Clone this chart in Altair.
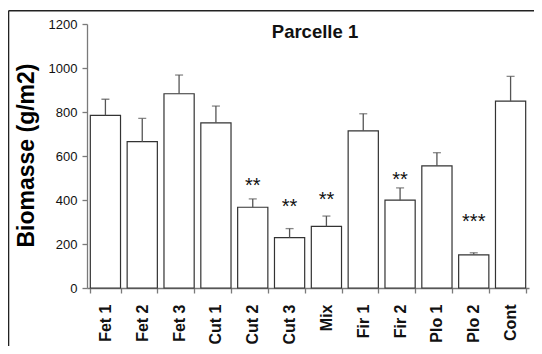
import altair as alt
import pandas as pd

categories = ["Fet 1", "Fet 2", "Fet 3", "Cut 1", "Cut 2", "Cut 3", "Mix",
              "Fir 1", "Fir 2", "Plo 1", "Plo 2", "Cont"]
means = [785, 665, 883, 751, 367, 229, 280, 714, 399, 555, 151, 849]
errors = [73, 106, 85, 76, 38, 41, 47, 78, 56, 60, 9, 113]
signif = ["", "", "", "", "**", "**", "**", "", "**", "", "***", ""]
star_heights = [None, None, None, None, 435, 342, 372, None, 462, None, 274, None]
y_ticks = [0, 200, 400, 600, 800, 1000, 1200]

df = pd.DataFrame({
    "cat": categories,
    "mean": means,
    "upper": [m + e for m, e in zip(means, errors)],
    "sig": signif,
    "star": star_heights,
})

FONT = "Liberation Sans"
AX = "#7a7a7a"

xenc = alt.X("cat:N", sort=categories,
             scale=alt.Scale(paddingInner=0.18, paddingOuter=0.09),
             axis=alt.Axis(title=None, labelAngle=-90, labelFontWeight="bold",
                           labelFontSize=16, labelPadding=11, tickBand="extent",
                           tickSize=5, labelColor="#111", labelAlign="right",
                           labelBaseline="middle"))
yscale = alt.Scale(domain=[0, 1200], nice=False)

base = alt.Chart(df)

bars = base.mark_bar(fill="white", stroke="#333333", strokeWidth=1.2).encode(
    x=xenc,
    y=alt.Y("mean:Q", scale=yscale,
            axis=alt.Axis(values=y_ticks, format="d", title="Biomasse (g/m2)", tickSize=5,
                          labelFontSize=13, labelPadding=5, labelColor="#111",
                          titleFontSize=23, titleFontWeight="bold",
                          titleAngle=-90, titleAlign="center",
                          titleBaseline="middle", titleX=-61, titleY=131,
                          titleColor="#000")),
)

err_rule = base.mark_rule(color="#555555", strokeWidth=1.3).encode(
    x=alt.X("cat:N", sort=categories),
    y=alt.Y("mean:Q", scale=yscale),
    y2="upper:Q",
)

err_cap = base.mark_tick(color="#555555", thickness=1.3, size=8).encode(
    x=alt.X("cat:N", sort=categories),
    y=alt.Y("upper:Q", scale=yscale),
)

stars = alt.Chart(df[df["sig"] != ""]).mark_text(
    font=FONT, fontSize=20, baseline="alphabetic", color="#111"
).encode(
    x=alt.X("cat:N", sort=categories),
    y=alt.Y("star:Q", scale=yscale),
    text="sig:N",
)

one = pd.DataFrame({"t": ["Parcelle 1"]})
title = alt.Chart(one).mark_text(
    font=FONT, fontSize=18.5, fontWeight="bold", baseline="alphabetic",
    align="center", color="#111"
).encode(x=alt.value(228), y=alt.value(14), text="t:N")

frame_top = alt.Chart(one).mark_rule(color="#222", strokeWidth=1.6).encode(
    x=alt.value(-78.5), x2=alt.value(460), y=alt.value(-13.2))
frame_left = alt.Chart(one).mark_rule(color="#222", strokeWidth=1.6).encode(
    x=alt.value(-78.5), y=alt.value(-13.2), y2=alt.value(340))

chart = alt.layer(bars, err_rule, err_cap, stars, title, frame_top, frame_left).properties(
    width=442, height=264,
    autosize=alt.AutoSizeParams(type="none"),
    padding={"left": 79, "top": 16, "right": 5, "bottom": 58},
).configure_view(stroke=None).configure_axis(
    labelFont=FONT, titleFont=FONT, grid=False,
    domainColor=AX, tickColor=AX, domainWidth=1.3, tickWidth=1.3,
)

chart.save("out.html", embed_options={"renderer": "svg", "actions": False})
